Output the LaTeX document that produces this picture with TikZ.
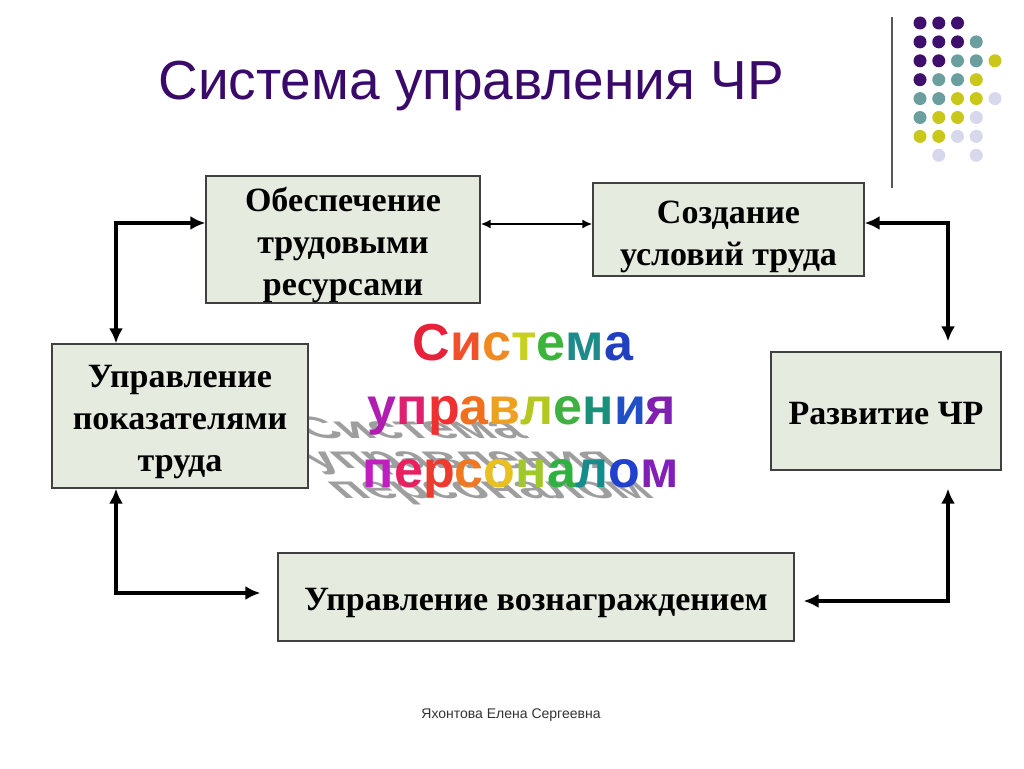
\documentclass[tikz,border=0pt]{standalone}
\usepackage{fontspec}
\setmainfont{Liberation Serif}
\newfontfamily\arialfont{Liberation Sans}
\usetikzlibrary{arrows.meta}
\definecolor{boxfill}{HTML}{E5EBDE}
\definecolor{titlecol}{HTML}{3A0A6A}
\definecolor{dP}{HTML}{3F0F6E}
\definecolor{dT}{HTML}{6B9E9E}
\definecolor{dY}{HTML}{C9C81A}
\definecolor{dL}{HTML}{D8D8EC}
\newif\ifshadowmode
\newcommand\rc[2]{\ifshadowmode#2\else{\color[HTML]{#1}#2}\fi}
\newcommand\wordA{\rc{E8213A}{С}\rc{F0502A}{и}\rc{F08A20}{с}\rc{C8D21E}{т}\rc{3CB43C}{е}\rc{1F8A8A}{м}\rc{2040C0}{а}}
\newcommand\wordB{\rc{B01EB0}{у}\rc{E0206E}{п}\rc{F03030}{р}\rc{F07020}{а}\rc{F0A020}{в}\rc{B4C81E}{л}\rc{40B040}{е}\rc{18907A}{н}\rc{2050C8}{и}\rc{8020B0}{я}}
\newcommand\wordC{\rc{C01EC0}{п}\rc{E82060}{е}\rc{F03A30}{р}\rc{F07820}{с}\rc{E8C020}{о}\rc{A0C828}{н}\rc{30B040}{а}\rc{148C8C}{л}\rc{2040D0}{о}\rc{8020B8}{м}}
\begin{document}
\begin{tikzpicture}[x=1pt,y=-1pt,
  box/.style={draw=black!75, line width=1.2pt, fill=boxfill, inner sep=0pt},
  boxtext/.style={inner sep=0pt, align=center, font=\bfseries\fontsize{34}{42}\selectfont},
  conn/.style={line width=4pt, line join=miter,
    arrows={Latex[length=15pt,width=14pt]-Latex[length=15pt,width=14pt]}},
  thinconn/.style={line width=2.2pt,
    arrows={Latex[length=10pt,width=9pt]-Latex[length=10pt,width=9pt]}},
  wa/.style={anchor=base, inner sep=0pt, font=\arialfont\bfseries\fontsize{52}{60}\selectfont},
  shadowtf/.style={cm={1,0,-0.68,0.6,(0,0)}, transform shape}]
\useasboundingbox (0,0) rectangle (1024,768);
\fill[white] (0,0) rectangle (1024,768);

% decoration: line and dots
\draw[black!65, line width=1.5pt] (892,17) -- (892,188);
\foreach \r/\c/\col in {0/0/dP,0/1/dP,0/2/dP,
  1/0/dP,1/1/dP,1/2/dP,1/3/dT,
  2/0/dP,2/1/dP,2/2/dT,2/3/dT,2/4/dY,
  3/0/dP,3/1/dT,3/2/dT,3/3/dY,
  4/0/dT,4/1/dT,4/2/dY,4/3/dY,4/4/dL,
  5/0/dT,5/1/dY,5/2/dY,5/3/dL,
  6/0/dY,6/1/dY,6/2/dL,6/3/dL,
  7/1/dL,7/3/dL}
  \fill[\col] ({920+18.75*\c},{23+18.9*\r}) circle[radius=6.5];

% title
\node (title) [anchor=base, inner sep=0pt, text=titlecol, font=\arialfont\fontsize{55}{60}\selectfont] at (471,99) {Система управления ЧР};

% WordArt shadow
\begin{scope}[shift={(420,438)}, shadowtf]
  \node (sA) [wa, text=black!38] at (0,0) {\shadowmodetrue\wordA};
\end{scope}
\begin{scope}[shift={(469,468)}, shadowtf]
  \node (sB) [wa, text=black!38] at (0,0) {\shadowmodetrue\wordB};
\end{scope}
\begin{scope}[shift={(500,498)}, shadowtf]
  \node (sC) [wa, text=black!38] at (0,0) {\shadowmodetrue\wordC};
\end{scope}
% WordArt
\node (wA) [wa] at (523,360) {\wordA};
\node (wB) [wa] at (522,424) {\wordB};
\node (wC) [wa] at (521,487) {\wordC};

% boxes
\node (B1) [box, minimum width=274pt, minimum height=127pt] at (343,239.5) {};
\node (B2) [box, minimum width=271pt, minimum height=93pt] at (728.5,229.5) {};
\node (B3) [box, minimum width=256pt, minimum height=144pt] at (180,416) {};
\node (B4) [box, minimum width=230pt, minimum height=118pt] at (886,411) {};
\node (B5) [box, minimum width=516pt, minimum height=88pt] at (536,597) {};
\node (B1t) [boxtext] at ([yshift=-5pt]B1.center) {Обеспечение\\трудовыми\\ресурсами};
\node (B2t) [boxtext] at ([yshift=-7pt]B2.center) {Создание\\условий труда};
\node (B3t) [boxtext] at ([yshift=-6pt]B3.center) {Управление\\показателями\\труда};
\node (B4t) [boxtext] at ([yshift=-3pt]B4.center) {Развитие ЧР};
\node (B5t) [boxtext] at ([yshift=-6pt]B5.center) {Управление вознаграждением};

% connectors
\coordinate (k1) at (116,223);
\coordinate (m) at (537,224);
\coordinate (k3) at (948,223);
\coordinate (k4) at (116,593);
\coordinate (k5) at (948,601);
\draw[conn] (B1.west |- k1) -- (k1) -- (k1 |- B3.north);
\draw[thinconn] (B1.east |- m) -- (B2.west |- m);
\draw[conn, shorten >=10pt] (B2.east |- k3) -- (k3) -- (k3 |- B4.north);
\draw[conn, shorten >=17pt] (k4 |- B3.south) -- (k4) -- (k4 -| B5.west);
\draw[conn, shorten <=18pt, shorten >=9pt] (k5 |- B4.south) -- (k5) -- (k5 -| B5.east);

% footer
\node (footer) [text=black!80, font=\arialfont\fontsize{14}{16}\selectfont] at (511,715) {Яхонтова Елена Сергеевна};
\end{tikzpicture}
\end{document}
